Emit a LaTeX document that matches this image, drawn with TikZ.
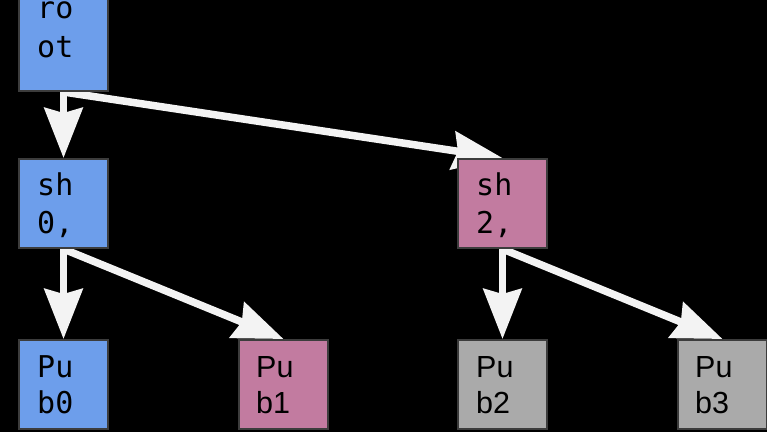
\documentclass[tikz,border=0pt]{standalone}
\usepackage{fontspec}
\setmainfont{Liberation Sans}
\newfontfamily\monof{DejaVu Sans Mono}
\usetikzlibrary{arrows.meta}
\definecolor{bluebox}{HTML}{6D9EEB}
\definecolor{pinkbox}{HTML}{C27BA0}
\definecolor{graybox}{HTML}{AAAAAA}
\definecolor{bordc}{HTML}{3C3C3C}
\definecolor{arrc}{HTML}{F3F3F3}
\pgfdeclarelayer{bg}
\pgfdeclarelayer{arrlayer}
\pgfsetlayers{bg,arrlayer,main}
\tikzset{
  box/.style={draw=bordc, line width=2pt, minimum width=89pt, minimum height=89pt, inner sep=0pt, anchor=north west},
  monotxt/.style={font=\monof\fontsize{30}{36}\selectfont, anchor=base west, inner sep=0pt, text=black},
  sanstxt/.style={font=\rmfamily\fontsize{30.5}{36}\selectfont, anchor=base west, inner sep=0pt, text=black},
  conn/.style={draw=arrc, line width=7.5pt, -{Stealth[length=50pt, width=38pt, inset=5pt]}}
}
\begin{document}
\begin{tikzpicture}[x=1pt, y=-1pt]
\begin{pgfonlayer}{bg}
\fill[black] (0,0) rectangle (767,432);
\end{pgfonlayer}
\useasboundingbox (0,0) rectangle (767,432);
% boxes
\node[box, fill=bluebox, minimum height=110pt] (root) at (18,-20) {};
\node[box, fill=bluebox] (sh0) at (18,158) {};
\node[box, fill=pinkbox] (sh2) at (457,158) {};
\node[box, fill=bluebox] (pub0) at (18,339) {};
\node[box, fill=pinkbox] (pub1) at (238,339) {};
\node[box, fill=graybox] (pub2) at (457,339) {};
\node[box, fill=graybox] (pub3) at (677,339) {};
% texts
\node[monotxt] (roota) at (37,18) {ro};
\node[monotxt] (rootb) at (37,57) {ot};
\node[monotxt] (sh0a) at (37,195) {sh};
\node[monotxt] (sh0b) at (37,233) {0,};
\node[monotxt] (sh2a) at (476,195) {sh};
\node[monotxt] (sh2b) at (476,233) {2,};
\node[monotxt] (pub0a) at (37,377) {Pu};
\node[monotxt] (pub0b) at (37,413) {b0};
\node[sanstxt] (pub1a) at (256,377) {Pu};
\node[sanstxt] (pub1b) at (256,413) {b1};
\node[sanstxt] (pub2a) at (476,377) {Pu};
\node[sanstxt] (pub2b) at (476,413) {b2};
\node[sanstxt] (pub3a) at (695,377) {Pu};
\node[sanstxt] (pub3b) at (695,413) {b3};
% connectors
\begin{pgfonlayer}{arrlayer}
\draw[conn] (root.south) -- (sh0.north);
\draw[conn] (root.south) -- (sh2.north);
\draw[conn] (sh0.south) -- (pub0.north);
\draw[conn] (sh0.south) -- (pub1.north);
\draw[conn] (sh2.south) -- (pub2.north);
\draw[conn] (sh2.south) -- (pub3.north);
\end{pgfonlayer}
\end{tikzpicture}
\end{document}
